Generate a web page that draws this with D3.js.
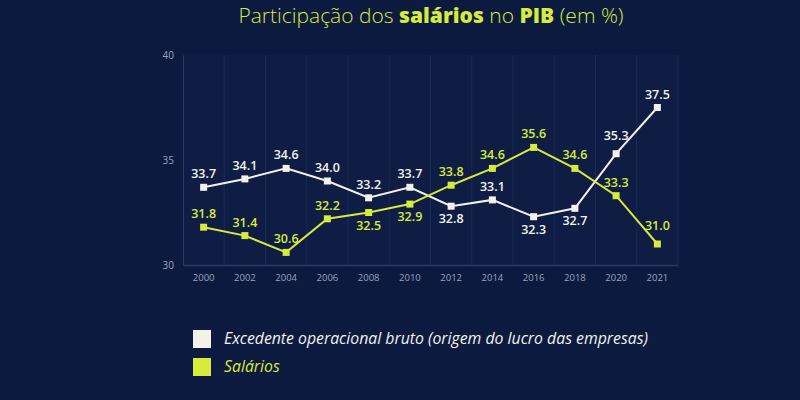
<!DOCTYPE html>
<html><head><meta charset="utf-8">
<script src="https://cdn.jsdelivr.net/npm/d3@7"></script>
<style>
html,body{margin:0;padding:0;background:#0d1a40;}
svg{display:block;}
</style></head>
<body>
<svg id="chart" width="800" height="400"></svg>
<script>
const years = ["2000","2002","2004","2006","2008","2010","2012","2014","2016","2018","2020","2021"];
const excedente = [33.7,34.1,34.6,34.0,33.2,33.7,32.8,33.1,32.3,32.7,35.3,37.5];
const salarios = [31.8,31.4,30.6,32.2,32.5,32.9,33.8,34.6,35.6,34.6,33.3,31.0];
// label placement: a = above, A = further above, b = below
const excedenteLabelPos = ["a","a","a","a","a","a","b","a","b","b","A","a"];
const salariosLabelPos = ["a","a","a","a","b","b","a","a","a","a","a","A"];
const yTicks = [30,35,40];
const seriesNames = ["Excedente operacional bruto (origem do lucro das empresas)","Salários"];

const W = 800, H = 400;
const bg = "#0d1a40";
const white = "#f2f2ea";
const yellow = "#d6eb3c";
const svg = d3.select("#chart");
svg.append("rect").attr("width",W).attr("height",H).attr("fill",bg);

const x = d3.scaleBand().domain(years).range([183,678]).padding(0);
const y = d3.scaleLinear().domain([30,40]).range([265,55]);

svg.append("rect").attr("x",183).attr("y",55).attr("width",495).attr("height",210)
  .attr("fill","#0f1d45");
svg.append("g").selectAll("line").data(years.slice(1)).join("line")
  .attr("x1",d=>x(d)).attr("x2",d=>x(d)).attr("y1",55).attr("y2",265)
  .attr("stroke","#1a2a55").attr("stroke-width",1);
svg.append("line").attr("x1",678).attr("x2",678).attr("y1",55).attr("y2",265)
  .attr("stroke","#1a2a55");

const yAxis = svg.append("g").attr("transform","translate(183,0)")
  .call(d3.axisLeft(y).tickValues(yTicks).tickSize(0).tickPadding(9));
yAxis.select(".domain").attr("stroke","#2a3a68");
yAxis.selectAll("text").attr("fill","#9aa3bd").attr("font-family","'Open Sans', sans-serif").attr("font-size",10);

const xAxis = svg.append("g").attr("transform","translate(0,265)")
  .call(d3.axisBottom(x).tickSize(0).tickPadding(9));
xAxis.select(".domain").attr("stroke","#2a3a68").attr("stroke-width",1.5);
xAxis.selectAll("text").attr("fill","#9aa3bd").attr("font-family","'Open Sans', sans-serif").attr("font-size",9.5);

function drawSeries(vals, color, pos){
  const pts = years.map((yr,i)=>({yr, v:vals[i], p:pos[i]}));
  const line = d3.line().x(d=>x(d.yr)+x.bandwidth()/2).y(d=>y(d.v));
  svg.append("path").datum(pts).attr("d",line).attr("fill","none")
    .attr("stroke",color).attr("stroke-width",2);
  svg.append("g").selectAll("rect").data(pts).join("rect")
    .attr("x",d=>x(d.yr)+x.bandwidth()/2-3.5).attr("y",d=>y(d.v)-3.5)
    .attr("width",7).attr("height",7).attr("fill",color);
  svg.append("g").selectAll("text").data(pts).join("text")
    .attr("x",d=>x(d.yr)+x.bandwidth()/2)
    .attr("y",d=>d.p==="a" ? y(d.v)-9 : d.p==="A" ? y(d.v)-14 : y(d.v)+17)
    .attr("text-anchor","middle").attr("fill",color)
    .attr("font-family","'Open Sans', sans-serif").attr("font-weight",600).attr("font-size",12.5)
    .text(d=>d.v.toFixed(1));
}
drawSeries(excedente, white, excedenteLabelPos);
drawSeries(salarios, yellow, salariosLabelPos);

const t = svg.append("text").attr("x",431).attr("y",23).attr("text-anchor","middle")
  .attr("fill",yellow).attr("font-family","'Open Sans', sans-serif").attr("font-size",21);
t.append("tspan").attr("font-weight",300).text("Participação dos ");
t.append("tspan").attr("font-weight",800).text("salários");
t.append("tspan").attr("font-weight",300).text(" no ");
t.append("tspan").attr("font-weight",800).text("PIB");
t.append("tspan").attr("font-weight",300).text(" (em %)");

const lg = svg.append("g");
[white, yellow].forEach((c,i)=>{
  lg.append("rect").attr("x",193).attr("y",330+i*28).attr("width",18).attr("height",18).attr("fill",c);
  lg.append("text").attr("x",224).attr("y",344+i*28).attr("fill",c)
    .attr("font-family","'Open Sans', sans-serif").attr("font-style","italic").attr("font-size",15.8)
    .text(seriesNames[i]);
});
</script>
</body></html>
